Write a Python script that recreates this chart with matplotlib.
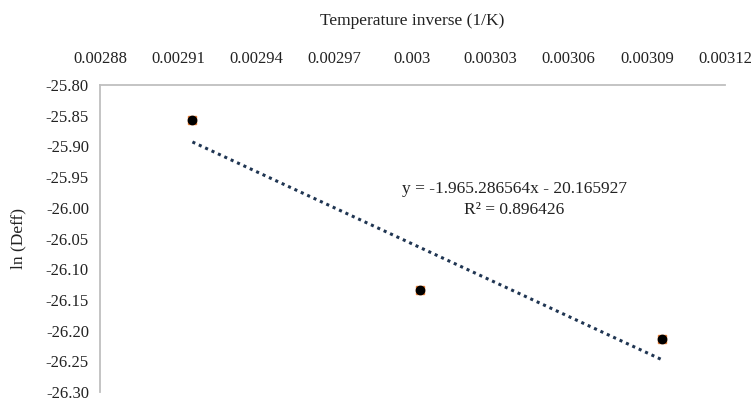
import numpy as np
import matplotlib
matplotlib.use("Agg")
from matplotlib import pyplot as plt

# data
inv_temp = [0.0029155, 0.0030030, 0.0030960]
ln_deff = [-25.857, -26.134, -26.214]

x_ticks = [0.00288, 0.00291, 0.00294, 0.00297, 0.003, 0.00303, 0.00306, 0.00309, 0.00312]
x_tick_labels = ["0.00288", "0.00291", "0.00294", "0.00297", "0.003",
                 "0.00303", "0.00306", "0.00309", "0.00312"]
y_ticks = [-25.80, -25.85, -25.90, -25.95, -26.00, -26.05, -26.10, -26.15, -26.20, -26.25, -26.30]

eq_text = "y = -1.965.286564x - 20.165927"
r2_text = "R² = 0.896426"

plt.rcParams['font.family'] = ['Liberation Serif', 'DejaVu Serif']

fig = plt.figure(figsize=(7.53, 4.01), dpi=100)
ax = fig.add_axes([0.1328, 0.022, 0.83, 0.766])

# trendline from a linear fit
slope, icpt = np.polyfit(inv_temp, ln_deff, 1)
xs = np.array([inv_temp[0], inv_temp[-1]])
ax.plot(xs, slope * xs + icpt, linestyle=(0, (1, 1.3)), color="#1f3552", linewidth=2.2, zorder=2)

# two overlaid series, orange squares under black dots
ax.plot(inv_temp, ln_deff, linestyle="none", marker="s", markersize=6, color="#ed7d31", zorder=3)
ax.plot(inv_temp, ln_deff, linestyle="none", marker="o", markersize=6, color="black", zorder=4)

ax.set_xlim(0.00288, 0.00312)
ax.set_ylim(-26.30, -25.80)
ax.xaxis.tick_top()
ax.xaxis.set_label_position("top")
ax.set_xticks(x_ticks)
ax.set_xticklabels(x_tick_labels)
ax.set_yticks(y_ticks)
ax.set_yticklabels(["%.2f" % v for v in y_ticks])
ax.tick_params(length=0, labelsize=12, colors="#222222", pad=8)
ax.tick_params(axis="x", pad=13)

for s in ["bottom", "right"]:
    ax.spines[s].set_visible(False)
for s in ["top", "left"]:
    ax.spines[s].set_color("#bfbfbf")
    ax.spines[s].set_linewidth(1.3)

ax.set_xlabel("Temperature inverse (1/K)", fontsize=12.5, labelpad=19, color="#222222")
ax.set_ylabel("ln (Deff)", fontsize=12.5, labelpad=14, color="#222222")

ax.text(0.003039, -25.97, eq_text, fontsize=12.5, ha="center", va="center", color="#222222")
ax.text(0.003039, -26.004, r2_text, fontsize=12.5, ha="center", va="center", color="#222222")

fig.savefig("out.png", dpi=100)
